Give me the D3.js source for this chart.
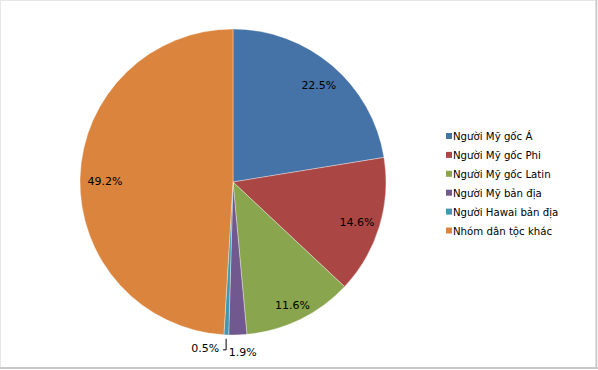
<!DOCTYPE html>
<html><head><meta charset="utf-8">
<script src="https://cdn.jsdelivr.net/npm/d3@7/dist/d3.min.js"></script>
<style>body{margin:0;background:#fff}svg{display:block}text{font-family:"DejaVu Sans",sans-serif;fill:#000}</style>
</head><body><svg id="c" width="598" height="370"></svg>
<script>
const categories = ["Người Mỹ gốc Á","Người Mỹ gốc Phi","Người Mỹ gốc Latin","Người Mỹ bản địa","Người Hawai bản địa","Nhóm dân tộc khác"];
const values = [22.5, 14.6, 11.6, 1.9, 0.5, 49.2];
const labels = ["22.5%","14.6%","11.6%","1.9%","0.5%","49.2%"];
const colors = ["#4572A7","#AA4643","#89A54E","#71588F","#4198AF","#DB843D"];

const svg = d3.select("#c");
svg.append("rect").attr("x",0.5).attr("y",0.5).attr("width",595).attr("height",367)
  .attr("fill","#fff").attr("stroke","#e6e6e6").attr("stroke-width",1);
svg.append("line").attr("x1",596.5).attr("x2",596.5).attr("y1",0).attr("y2",369).attr("stroke","#c8c8c8").attr("stroke-width",1.5);
svg.append("line").attr("x1",0).attr("x2",598).attr("y1",368).attr("y2",368).attr("stroke","#c8c8c8").attr("stroke-width",2);

const cx = 233, cy = 182, R = 153;
const pie = d3.pie().sort(null).value(d=>d)(values);
const arc = d3.arc().innerRadius(0).outerRadius(R);
const g = svg.append("g").attr("transform",`translate(${cx},${cy})`);
g.selectAll("path").data(pie).join("path")
  .attr("d",arc).attr("fill",(d,i)=>colors[i])
  .attr("stroke","#fff").attr("stroke-width",0.6).attr("stroke-opacity",0.6);

const fs = 11;
const lg = g.append("g").attr("font-size",fs);
pie.forEach((d,i)=>{
  if (values[i] < 5) return;
  const a = (d.startAngle+d.endAngle)/2;
  const ux = Math.sin(a), uy = -Math.cos(a);
  const t = lg.append("text").text(labels[i]).attr("text-anchor","middle");
  const w = t.node().getBBox().width, h = fs;
  let rr = R;
  for (; rr > 0; rr -= 0.5) {
    const x = rr*ux, y = rr*uy;
    const corners = [[x-w/2,y-h/2],[x+w/2,y-h/2],[x-w/2,y+h/2],[x+w/2,y+h/2]];
    if (corners.every(c=>Math.hypot(c[0],c[1]) <= R-6)) break;
  }
  t.attr("x",rr*ux + 1).attr("y",rr*uy + fs*0.36 + 3);
});
// small slices: outside labels with leader
const aP = (pie[3].startAngle+pie[3].endAngle)/2;
const aT = (pie[4].startAngle+pie[4].endAngle)/2;
lg.append("text").text(labels[3]).attr("text-anchor","start")
  .attr("x",Math.sin(aP)*R - 9).attr("y",-Math.cos(aP)*R + 21);
lg.append("text").text(labels[4]).attr("text-anchor","end")
  .attr("x",Math.sin(aT)*R - 7).attr("y",-Math.cos(aT)*R + 17);
const ex = Math.sin(aT)*(R+4), ey = -Math.cos(aT)*(R+4);
g.append("path").attr("d",`M${ex},${ey} L${ex},${ey+11} L${ex-3},${ey+11}`)
  .attr("fill","none").attr("stroke","#000").attr("stroke-width",1);

// legend
const leg = svg.append("g").attr("transform","translate(446,136)");
categories.forEach((c,i)=>{
  const row = leg.append("g").attr("transform",`translate(0,${i*18.9})`);
  row.append("rect").attr("x",0).attr("y",-3).attr("width",6).attr("height",6).attr("fill",colors[i]);
  row.append("text").attr("x",7).attr("y",4).attr("font-size",10.2).text(c);
});
</script></body></html>
